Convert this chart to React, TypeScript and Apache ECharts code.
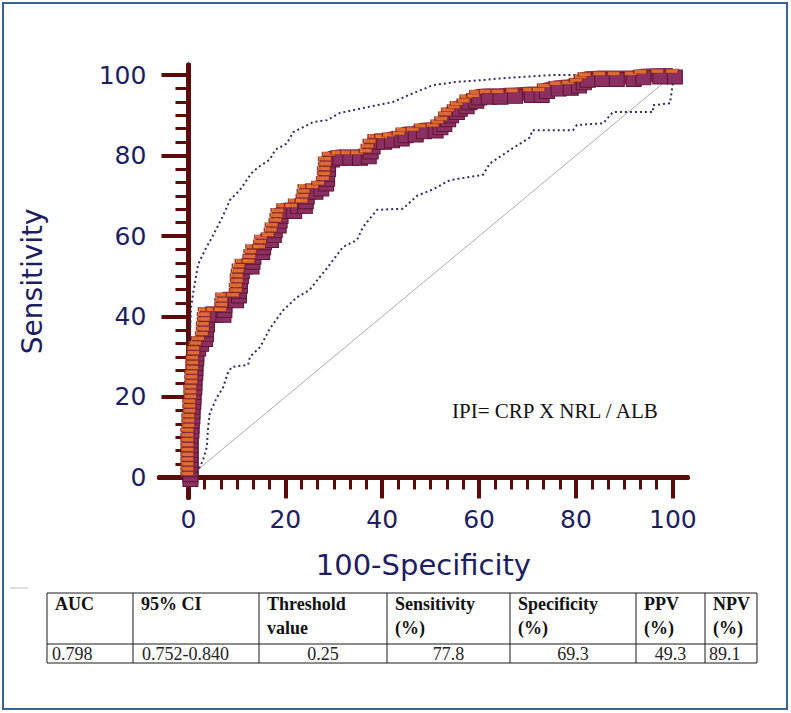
import React, { useEffect, useRef } from "react";
import * as echarts from "echarts";

// ---- axis ticks ----
const majorTicks = [0, 20, 40, 60, 80, 100];
const minorTicks = Array.from({ length: 31 }, (_, i) => (i * 10) / 3).filter((_, i) => i % 6 !== 0);

// ---- ROC curve (100-Specificity, Sensitivity) ----
const rocCurve: [number, number][] = [
  [0, 0], [0, 1.2], [0, 2.4], [0, 3.6], [0, 4.8], [0, 6], [0, 7.2], [0, 8.4], [0, 9.6], [0, 10.8],
  [0.2, 12], [0.2, 13.2], [0.2, 14.4], [0.4, 15.6], [0.4, 16.8], [0.4, 18], [0.6, 19.2], [0.6, 20.4],
  [0.6, 21.6], [0.8, 22.8], [0.8, 24], [0.8, 25.2], [1, 26.4], [1, 27.6], [1, 28.8], [1.2, 30],
  [1.2, 31.2], [1.6, 32.4], [2.2, 33.6], [3, 34.8], [3.2, 36], [3.2, 37.2], [3.4, 38.4], [3.4, 39.6],
  [3.6, 40.8], [5.2, 40.8], [6.8, 40.8], [7, 42], [7, 43.2], [7.2, 44.4], [9.4, 44.4], [10, 45.6],
  [10, 46.8], [10.2, 48], [10.2, 49.2], [10.4, 50.4], [10.6, 51.6], [11.2, 52.8], [12.6, 52.8],
  [12.8, 54], [13, 55.2], [13.4, 56.4], [14.8, 56.4], [15, 57.6], [15.2, 58.8], [16.6, 59.4],
  [17.2, 60.6], [17.4, 61.8], [18.2, 63], [18.4, 64.2], [18.6, 65.4], [19.8, 66.6], [21.4, 66.6],
  [22.2, 67.8], [23.6, 67.8], [23.8, 69], [24, 70.2], [24.2, 71.4], [25.8, 71.4], [27, 72.2],
  [28, 73.4], [28.2, 74.6], [28.2, 75.8], [28.4, 77], [28.4, 78.2], [29.2, 79.4], [31, 79.8],
  [33, 79.8], [35, 79.8], [36.8, 80.2], [37.2, 81.4], [37.6, 82.6], [38.6, 83.8], [40, 83.8],
  [41.6, 84.2], [43.6, 84.6], [44.4, 85.4], [46.5, 85.6], [48.2, 86.4], [50.6, 86.6], [51.6, 87.4],
  [52.4, 88.2], [53.2, 89.4], [53.8, 90.4], [55, 91.2], [55.6, 92], [57, 92.6], [57.6, 93.6],
  [59, 94], [59.6, 94.8], [61.6, 95], [64, 95], [67, 95.2], [70.5, 95.4], [72.5, 95.4],
  [73.6, 96.4], [76, 97], [78.5, 97.2], [80.2, 97.8], [81.2, 98.6], [82, 99.2], [85, 99.4],
  [88, 99.4], [91.5, 99.4], [93.5, 99.8], [97, 100], [100, 100],
];

// ---- 95% confidence bounds ----
const upperBound: [number, number][] = [
  [0, 0], [0, 12], [0.2, 24], [0.3, 34], [0.5, 42], [1, 46], [2, 53], [3.4, 56.5], [5, 60],
  [7, 64.7], [8.6, 69], [10.6, 71.4], [13, 75.6], [14.3, 77], [16.8, 79], [17.9, 81.4],
  [20.3, 83], [21.6, 85.8], [25.7, 88.3], [28.6, 88.8], [31.3, 90.6], [36.8, 92], [42.2, 93.3],
  [46.4, 95.5], [50.5, 97.5], [55.4, 98.3], [60, 98.7], [65.7, 99.3], [75, 100], [100, 100],
];
const lowerBound: [number, number][] = [
  [1.3, 0], [3, 4.3], [3.8, 7.6], [4, 11.8], [4.4, 16], [5.9, 20], [7.1, 22.2], [8.2, 26.2],
  [9, 27.5], [12.3, 28], [12.7, 30], [14.8, 32.4], [16.8, 37], [19.5, 41.5], [22.4, 44.8],
  [25, 46.6], [27.1, 49.8], [28.6, 52], [31.9, 57.3], [34.8, 59], [36, 62.2], [38.9, 66.5],
  [44.3, 66.8], [47.2, 70], [50.5, 71.6], [54, 73.9], [60.8, 75.2], [62.2, 78], [66.4, 81.4],
  [70.5, 84.5], [71, 86.3], [79.4, 86.3], [80.2, 87.6], [85.6, 88], [87.6, 90.8], [95.9, 90.8],
  [95.9, 92.5], [99.4, 93], [100, 98], [100, 100],
];
const diagonal: [number, number][] = [[0, 0], [100, 100]];

// ---- texts ----
const formulaText = "IPI= CRP X NRL / ALB";
const xAxisName = "100-Specificity";
const yAxisName = "Sensitivity";
const tableHeaders = [["AUC"], ["95% CI"], ["Threshold", "value"], ["Sensitivity", "(%)"], ["Specificity", "(%)"], ["PPV", "(%)"], ["NPV", "(%)"]];
const tableValues = ["0.798", "0.752-0.840", "0.25", "77.8", "69.3", "49.3", "89.1"];

// ---- layout (not data) ----
const colEdges = [47, 133, 259, 387, 510, 636, 705, 757];
const rowTop = 593, rowMid = 644, rowBottom = 663;
const valueAlign = ["left", "left", "center", "center", "center", "center", "left"];

const axisColor = "#5c0b0b";
const labelColor = "#1d1d5f";
const sans = "DejaVu Sans";
const serif = "Liberation Serif";

function buildTable(): any[] {
  const els: any[] = [];
  const line = (x1: number, y1: number, x2: number, y2: number) => ({
    type: "line", silent: true,
    shape: { x1, y1, x2, y2 },
    style: { stroke: "#1a1a1a", lineWidth: 1 },
  });
  els.push(line(colEdges[0], rowTop, colEdges[colEdges.length - 1], rowTop));
  els.push(line(colEdges[0], rowMid, colEdges[colEdges.length - 1], rowMid));
  els.push(line(colEdges[0], rowBottom, colEdges[colEdges.length - 1], rowBottom));
  colEdges.forEach((x) => els.push(line(x, rowTop, x, rowBottom)));
  tableHeaders.forEach((lines, i) => {
    lines.forEach((t, j) => {
      els.push({
        type: "text", silent: true,
        x: colEdges[i] + 8, y: 604 + j * 24,
        style: { text: t, fontSize: 18, fontWeight: "bold", fontFamily: serif, fill: "#111", align: "left", verticalAlign: "middle" },
      });
    });
  });
  tableValues.forEach((t, i) => {
    const a = valueAlign[i];
    const x = a === "center" ? (colEdges[i] + colEdges[i + 1]) / 2 : colEdges[i] + (i === 0 ? 5 : i === 6 ? 4 : 9);
    els.push({
      type: "text", silent: true,
      x, y: 654,
      style: { text: t, fontSize: 18, fontFamily: serif, fill: "#222", align: a, verticalAlign: "middle" },
    });
  });
  return els;
}

export default function App() {
  const ref = useRef<HTMLDivElement>(null);
  useEffect(() => {
    document.body.style.margin = "0";
    if (!ref.current) return;
    const chart = echarts.init(ref.current, null, { renderer: "svg" });
    const xCommon = { type: "value", min: -6, max: 103, position: "bottom", splitLine: { show: false } };
    const yCommon = { type: "value", min: -5, max: 102.5, position: "left", splitLine: { show: false } };
    chart.setOption({
      animation: false,
      backgroundColor: "#ffffff",
      grid: { left: 159.4, top: 65, width: 528, height: 432.6, containLabel: false, outerBoundsMode: "none" },
      xAxis: [
        {
          ...xCommon,
          axisLine: { onZero: true, onZeroAxisIndex: 0, lineStyle: { color: axisColor, width: 5 } },
          axisTick: { show: true, customValues: majorTicks, length: 21, lineStyle: { color: axisColor, width: 4 } },
          axisLabel: { customValues: majorTicks, margin: 9, fontSize: 25, color: labelColor, fontFamily: sans },
          name: xAxisName, nameLocation: "middle", nameGap: 53, nameMoveOverlap: false,
          nameTextStyle: { fontSize: 29, color: labelColor, fontFamily: sans },
        },
        {
          ...xCommon,
          axisLine: { show: true, onZero: true, onZeroAxisIndex: 0, lineStyle: { color: axisColor, width: 5 } },
          axisTick: { show: true, customValues: minorTicks, length: 12, lineStyle: { color: axisColor, width: 3 } },
          axisLabel: { show: false },
        },
      ],
      yAxis: [
        {
          ...yCommon,
          axisLine: { onZero: true, onZeroAxisIndex: 0, lineStyle: { color: axisColor, width: 5 } },
          axisTick: { show: true, customValues: majorTicks, length: 27, lineStyle: { color: axisColor, width: 4 } },
          axisLabel: { customValues: majorTicks, margin: 13, fontSize: 25, color: labelColor, fontFamily: sans },
          name: yAxisName, nameLocation: "middle", nameGap: 113, nameMoveOverlap: false,
          nameTextStyle: { fontSize: 28, color: labelColor, fontFamily: sans },
        },
        {
          ...yCommon,
          axisLine: { show: true, onZero: true, onZeroAxisIndex: 0, lineStyle: { color: axisColor, width: 5 } },
          axisTick: { show: true, customValues: minorTicks, length: 13, lineStyle: { color: axisColor, width: 3 } },
          axisLabel: { show: false },
        },
      ],
      series: [
        {
          type: "line", data: diagonal, symbol: "none", silent: true, z: 1,
          lineStyle: { color: "#b3aaaa", width: 1 },
        },
        {
          type: "line", data: upperBound, symbol: "none", silent: true, z: 2,
          lineStyle: { color: "#2e2e62", width: 2, type: [2, 3] },
        },
        {
          type: "line", data: lowerBound, symbol: "none", silent: true, z: 2,
          lineStyle: { color: "#2e2e62", width: 2, type: [2, 3] },
        },
        {
          type: "line", data: rocCurve, silent: true, z: 3,
          symbol: "rect", symbolSize: [15, 14], symbolOffset: [2, 2], showSymbol: true,
          itemStyle: { color: "#8c2f63", borderColor: "#5e1630", borderWidth: 1 },
          lineStyle: { color: "#8c2f63", width: 14 },
        },
        {
          type: "scatter", data: rocCurve, silent: true, z: 4,
          symbol: "rect", symbolSize: [13, 4], symbolOffset: [-1, -4],
          itemStyle: { color: "#f47b2c", borderColor: "#7a1f1f", borderWidth: 0.8 },
        },
      ],
      graphic: [
        {
          type: "rect", silent: true,
          shape: { x: 3, y: 3, width: 784, height: 706 },
          style: { fill: "none", stroke: "#3a6491", lineWidth: 2 },
        },
        {
          type: "line", silent: true,
          shape: { x1: 10, y1: 588, x2: 28, y2: 588 },
          style: { stroke: "#bbbbbb", lineWidth: 1 },
        },
        {
          type: "text", silent: true, x: 452, y: 411,
          style: { text: formulaText, fontSize: 21, fontFamily: serif, fill: "#111", align: "left", verticalAlign: "middle" },
        },
        ...buildTable(),
      ],
    });
    return () => chart.dispose();
  }, []);
  return <div ref={ref} style={{ width: 791, height: 713 }} />;
}
